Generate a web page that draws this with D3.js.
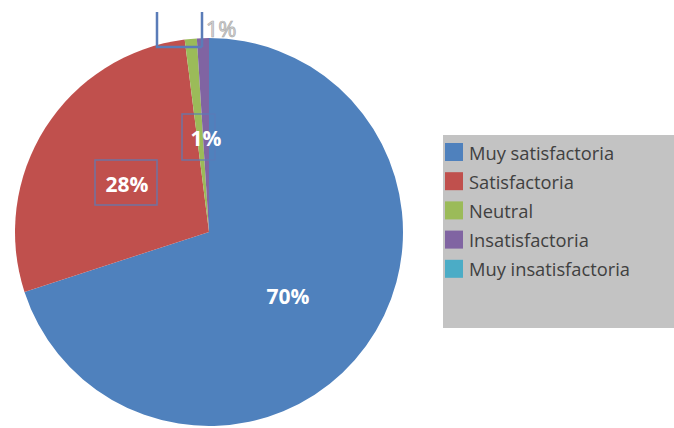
<!DOCTYPE html>
<html>
<head>
<meta charset="utf-8">
<script src="https://cdn.jsdelivr.net/npm/d3@7"></script>
<style>
  body { margin: 0; background: #fff; }
  svg { display: block; }
</style>
</head>
<body>
<div id="chart"></div>
<script>
// data
var categories = ["Muy satisfactoria", "Satisfactoria", "Neutral", "Insatisfactoria", "Muy insatisfactoria"];
var values = [70, 28, 1, 1, 0];
var labels = ["70%", "28%", "1%", "1%", ""];
var colors = ["#4f81bd", "#c0504d", "#9bbb59", "#8064a2", "#4bacc6"];

var width = 674,
    height = 428;
var cx = 209, cy = 232, radius = 194;

var svg = d3.select("#chart").append("svg")
  .attr("width", width)
  .attr("height", height);

var data = categories.map(function(c, i) {
  return {name: c, value: values[i], label: labels[i], color: colors[i]};
});

var pie = d3.pie()
  .sort(null)
  .value(function(d) { return d.value; });

var arc = d3.arc()
  .innerRadius(0)
  .outerRadius(radius);

var g = svg.append("g")
  .attr("transform", "translate(" + cx + "," + cy + ")");

var arcs = pie(data);

g.selectAll("path")
  .data(arcs)
  .enter().append("path")
  .attr("d", arc)
  .attr("fill", function(d) { return d.data.color; });

// label positions (relative to centre) for each slice
var labelPos = [
  {x: 79, y: 64, box: false},
  {x: -82, y: -48, box: [-114, -72, 62, 45]},
  {x: -3, y: -94, box: [-27, -118, 33, 46]},
  {x: 12, y: -204, box: null, outside: true},
  null
];

arcs.forEach(function(d, i) {
  var p = labelPos[i];
  if (!p || !d.data.label) return;
  if (p.box) {
    g.append("rect")
      .attr("x", p.box[0])
      .attr("y", p.box[1])
      .attr("width", p.box[2])
      .attr("height", p.box[3])
      .attr("fill", "none")
      .attr("stroke", "#5a7cb8")
      .attr("stroke-opacity", 0.8)
      .attr("stroke-width", 1.5);
  }
  g.append("text")
    .attr("x", p.x)
    .attr("y", p.y)
    .attr("text-anchor", "middle")
    .attr("dominant-baseline", "central")
    .style("font-family", "'Open Sans', sans-serif")
    .style("font-weight", p.outside ? "normal" : "bold")
    .style("font-size", p.outside ? "22px" : "21px")
    .attr("fill", p.outside ? "#dcdcdc" : "#fff")
    .attr("stroke", p.outside ? "#aaaaaa" : "none")
    .attr("stroke-width", p.outside ? 0.7 : 0)
    .text(d.data.label);
});

// leader box for the small slice at the top (cut off at the top edge)
svg.append("path")
  .attr("d", "M157,12 V47 H202 M202,12 V47")
  .attr("fill", "none")
  .attr("stroke", "#5a7cb8")
  .attr("stroke-width", 2.5);

// legend
var legend = svg.append("g")
  .attr("transform", "translate(443,135)");

legend.append("rect")
  .attr("width", 231)
  .attr("height", 193)
  .attr("fill", "#c3c3c3");

var item = legend.selectAll(".item")
  .data(data)
  .enter().append("g")
  .attr("class", "item")
  .attr("transform", function(d, i) { return "translate(2," + (17 + i * 29.2) + ")"; });

item.append("rect")
  .attr("x", 0)
  .attr("y", -9)
  .attr("width", 18)
  .attr("height", 18)
  .attr("fill", function(d) { return d.color; });

item.append("text")
  .attr("x", 24)
  .attr("y", 0)
  .attr("dominant-baseline", "central")
  .style("font-family", "'Open Sans', sans-serif")
  .style("font-size", "18.3px")
  .attr("fill", "#404040")
  .text(function(d) { return d.name; });
</script>
</body>
</html>
